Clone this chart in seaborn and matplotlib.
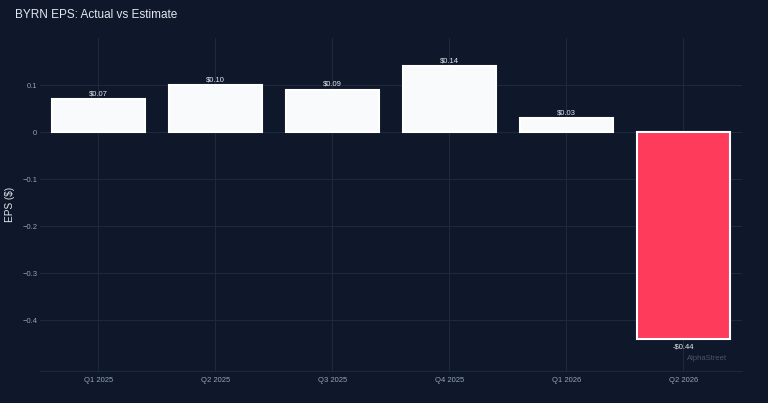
import matplotlib
matplotlib.use('Agg')
import matplotlib.pyplot as plt
import seaborn as sns
import pandas as pd

# data
quarters = ['Q1 2025', 'Q2 2025', 'Q3 2025', 'Q4 2025', 'Q1 2026', 'Q2 2026']
eps_actual = [0.07, 0.10, 0.09, 0.14, 0.03, -0.44]
bar_labels = ['$0.07', '$0.10', '$0.09', '$0.14', '$0.03', '-$0.44']

BG = '#0f172a'
GRID = '#1e293b'
TXT = '#94a3b8'

sns.set_theme(style='dark')
plt.rcParams['font.family'] = ['Liberation Sans', 'DejaVu Sans']
plt.rcParams['axes.unicode_minus'] = True

df = pd.DataFrame({'quarter': quarters, 'eps': eps_actual})
colors = ['#f8fafc' if v >= 0 else '#ff3b5c' for v in eps_actual]

fig = plt.figure(figsize=(7.68, 4.03), dpi=100, facecolor=BG)
ax = fig.add_axes([0.052, 0.0794, 0.914, 0.8263])
ax.set_facecolor(BG)

sns.barplot(data=df, x='quarter', y='eps', hue='quarter', palette=colors,
            legend=False, width=0.8, saturation=1, edgecolor='white',
            linewidth=1.5, ax=ax)

# value labels above / below bars
for i, (v, lab) in enumerate(zip(eps_actual, bar_labels)):
    if v >= 0:
        ax.text(i, v + 0.004, lab, ha='center', va='bottom', fontsize=5.5, color='#e2e8f0')
    else:
        ax.text(i, v - 0.010, lab, ha='center', va='top', fontsize=5.5, color='#e2e8f0')

ax.set_xlim(-0.5, 5.5)
ax.set_ylim(-0.508, 0.2)
ax.set_yticks([-0.4, -0.3, -0.2, -0.1, 0, 0.1])
ax.set_yticklabels(['\u22120.4', '\u22120.3', '\u22120.2', '\u22120.1', '0', '0.1'])
ax.grid(True, color=GRID, linewidth=0.8)
ax.set_axisbelow(True)
ax.tick_params(axis='both', colors=TXT, labelsize=5.5, length=0)
ax.tick_params(axis='y', pad=2)
ax.tick_params(axis='x', pad=4)
for sp in ['top', 'right', 'left']:
    ax.spines[sp].set_visible(False)
ax.spines['bottom'].set_color(GRID)
ax.spines['bottom'].set_linewidth(0.8)

ax.set_xlabel('')
ax.set_ylabel('EPS ($)', color='#e2e8f0', fontsize=7.2)
ax.yaxis.set_label_coords(-0.035, 0.5)

fig.text(0.02, 0.962, 'BYRN EPS: Actual vs Estimate', color='#e2e8f0',
         fontsize=8.5, ha='left', va='center')
ax.text(5.37, -0.482, 'AlphaStreet', color='#475569', fontsize=5.5,
        ha='right', va='center')

fig.savefig('out.png', dpi=100, facecolor=BG)
